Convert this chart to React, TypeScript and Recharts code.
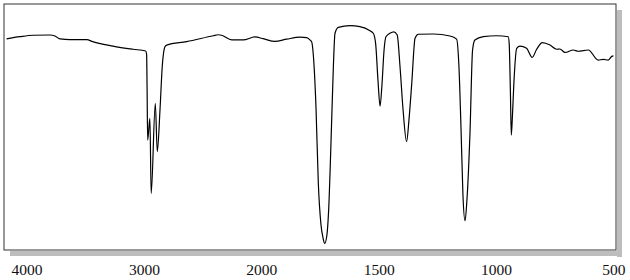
import React from "react";
import { LineChart, Line, XAxis, YAxis, ReferenceArea } from "recharts";

// Wavenumbers (cm-1) of traced points, descending
const wavenumbers = [
  4174, 4060, 3949, 3805, 3762, 3719, 3634, 3489, 3447, 3268, 3097, 2989, 2981, 2977,
  2972, 2953, 2942, 2907, 2890, 2867, 2848, 2825, 2810, 2640, 2413, 2371, 2342, 2256,
  2158, 2058, 1994, 1944, 1894, 1837, 1809, 1795, 1787, 1781, 1769, 1759, 1748, 1739,
  1732, 1723, 1715, 1706, 1695, 1688, 1674, 1624, 1582, 1539, 1525, 1515, 1505, 1496,
  1488, 1479, 1471, 1454, 1437, 1423, 1411, 1398, 1383, 1373, 1361, 1347, 1333, 1269,
  1198, 1170, 1160, 1151, 1143, 1134, 1126, 1113, 1102, 1092, 1056, 999, 950, 946, 941,
  937, 932, 926, 914, 900, 872, 848, 829, 805, 772, 744, 730, 708, 673, 652, 609, 567,
  545, 524, 509, 502,
];

// Transmittance (%) at those wavenumbers
const transmittance = [
  85.8, 86.7, 87.3, 87.4, 87.0, 85.8, 85.5, 85.5, 84.8, 82.9, 81.6, 80.9, 79.5, 66.0,
  44.7, 53.5, 23.0, 59.6, 40.0, 56.9, 74.5, 82.6, 83.3, 84.7, 87.1, 87.5, 87.3, 85.4,
  85.4, 86.6, 85.9, 84.8, 85.7, 86.5, 86.3, 85.4, 84.5, 80.0, 58.0, 27.0, 10.5, 4.9,
  2.7, 5.7, 16.3, 40.7, 74.5, 88.1, 90.5, 91.2, 90.8, 89.1, 88.1, 84.0, 69.1, 58.5,
  67.1, 81.3, 86.7, 88.1, 88.7, 87.4, 74.5, 56.9, 44.0, 52.8, 67.8, 86.1, 87.7, 87.8,
  87.0, 85.7, 74.5, 48.8, 22.4, 11.9, 20.3, 47.6, 81.3, 85.4, 86.7, 87.1, 86.7, 84.0, 65.0,
  46.7, 54.9, 67.9, 82.0, 82.9, 82.0, 78.3, 81.6, 84.3, 83.3, 81.6, 81.7, 80.3, 81.3, 80.8, 81.3, 77.2,
  77.5, 77.2, 78.7, 78.9,
];

const tickWavenumbers = [4000, 3000, 2000, 1500, 1000, 500];
const axisLimits = [4196, 491];

// IR convention: scale doubles below 2000 cm-1
const toAxis = (wn: number) => (wn >= 2000 ? (4000 - wn) / 1000 : 2 + (2000 - wn) / 500);

const data = wavenumbers.map((wn, i) => ({ u: toAxis(wn), t: transmittance[i] }));
const ticks = tickWavenumbers.map(toAxis);
const tickLabel = (u: number) => {
  const idx = ticks.findIndex((t) => Math.abs(t - u) < 1e-6);
  return idx >= 0 ? String(tickWavenumbers[idx]) : "";
};

const SerifTick = (props: any) => {
  const { x, y, payload } = props;
  return (
    <text
      x={x}
      y={y}
      dy="0.71em"
      textAnchor="middle"
      fontFamily="Liberation Serif"
      fontSize={15.5}
      fill="#111"
    >
      {tickLabel(payload.value)}
    </text>
  );
};

const FrameShape = (props: any) => {
  const { x, y, width, height } = props;
  return (
    <g>
      <rect x={x + 6} y={y + height + 1} width={width} height={5} fill="#bdbdbd" />
      <rect x={x + width + 1} y={y + 6} width={5} height={height + 1} fill="#bdbdbd" />
      <rect x={x} y={y} width={width} height={height} fill="none" stroke="#333" strokeWidth={1} />
    </g>
  );
};

export default function App() {
  const uMin = toAxis(axisLimits[0]);
  const uMax = toAxis(axisLimits[1]);
  return (
    <div style={{ position: "absolute", left: 0, top: 0, background: "#fff" }}>
      <LineChart width={630} height={280} data={data} margin={{ top: 4, right: 14, left: 4, bottom: 0 }}>
        <XAxis
          dataKey="u"
          type="number"
          domain={[uMin, uMax]}
          ticks={ticks}
          interval={0}
          axisLine={false}
          tickLine={false}
          tickMargin={8}
          height={30}
          allowDataOverflow
          tick={<SerifTick />}
        />
        <YAxis hide type="number" domain={[0, 100]} allowDataOverflow />
        <ReferenceArea x1={uMin} x2={uMax} y1={0} y2={100} shape={FrameShape} ifOverflow="visible" />
        <Line
          type="monotone"
          dataKey="t"
          stroke="#000"
          strokeWidth={1.2}
          dot={false}
          isAnimationActive={false}
        />
      </LineChart>
    </div>
  );
}
